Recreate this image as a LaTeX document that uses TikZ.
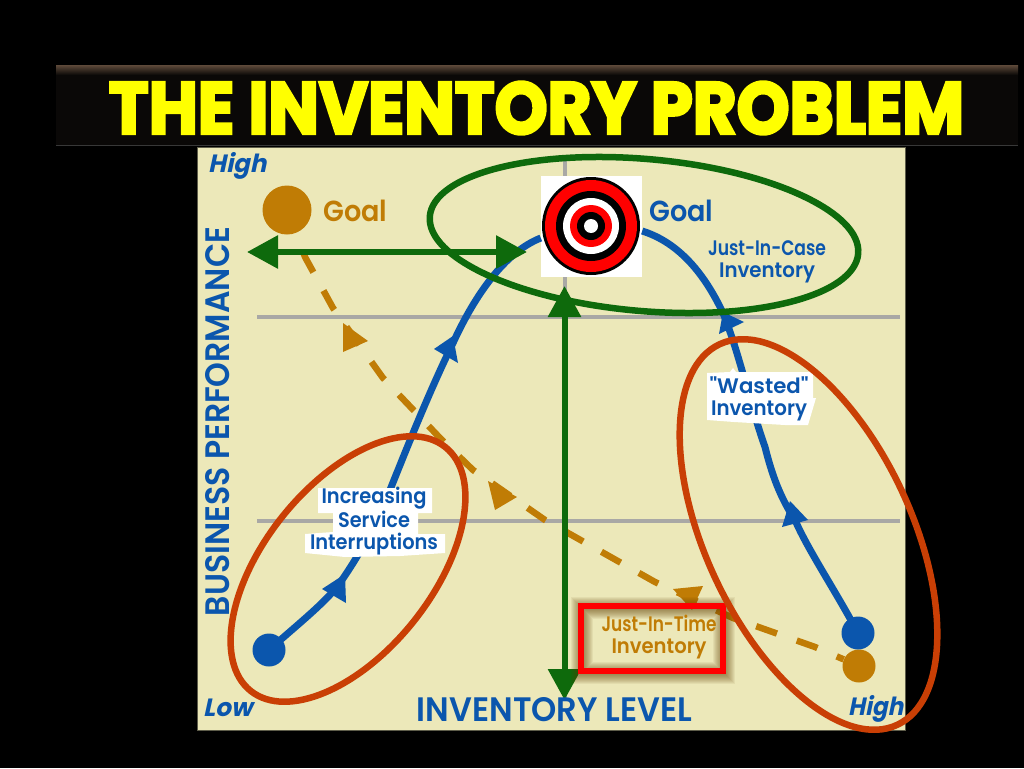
\documentclass[tikz,border=0pt]{standalone}
\usepackage{fontspec}
\usepackage{graphicx}
\usetikzlibrary{arrows.meta}
\newfontfamily\pf{Poppins}[UprightFont=*-SemiBold]
\newfontfamily\pfi{Poppins}[UprightFont=*-Bold,FakeSlant=.22]
\newfontfamily\titlef{Poppins}[FakeBold=4,UprightFont=*-Bold]
\newcommand{\fitw}[2]{\resizebox{#1pt}{\height}{#2}}
\definecolor{panelc}{HTML}{ECE8B9}
\definecolor{bluec}{HTML}{0B56AD}
\definecolor{greenc}{HTML}{0E6A0C}
\definecolor{brownc}{HTML}{C07C05}
\definecolor{redc}{HTML}{C93F05}
\definecolor{grayc}{HTML}{A9A8A5}
\definecolor{topc}{HTML}{5E4A3A}
\definecolor{barc}{HTML}{0A0807}
\definecolor{yellowc}{HTML}{FFFF00}
\tikzset{
  x=1pt,y=-1pt,
  gridline/.style={draw=grayc,line width=4pt},
  flow/.style={draw=bluec,line width=7pt},
  headblue/.style={fill=bluec},
  headbrown/.style={fill=brownc},
  gaparrow/.style={draw=greenc,line width=6pt,{Triangle[length=31pt,width=32pt]}-{Triangle[length=31pt,width=32pt]}},
  ringg/.style={draw=greenc,line width=6.5pt},
  ringr/.style={draw=redc,line width=6.5pt},
  jit/.style={draw=brownc,line width=6.5pt,dash pattern=on 22pt off 21pt,dash phase=22pt},
  dotn/.style={circle,inner sep=0pt,minimum size=#1},
  lbl/.style={inner sep=0pt,align=center,font=\pf\fontsize{21}{22}\selectfont},
  corner/.style={inner sep=0pt,text=bluec,font=\pfi\fontsize{25}{25}\selectfont,anchor=base west},
  goaltxt/.style={inner sep=0pt,font=\pf\fontsize{29}{29}\selectfont,anchor=base west},
}
\begin{document}
\begin{tikzpicture}
\useasboundingbox (0,0) rectangle (1024,768);
\fill[black] (0,0) rectangle (1024,768);
% title bar
\fill[barc] (56,65) rectangle (1018,146);
\shade[top color=topc,bottom color=barc] (56,65) rectangle (1018,75);
\draw[black!78!white,line width=1pt] (56,145.5) -- (1018,145.5);
\node[inner sep=0pt,text=yellowc] (title) at (536.5,108) {\resizebox{855pt}{52pt}{\titlef THE INVENTORY PROBLEM}};
% panel
\fill[panelc,draw=black!60!panelc,line width=1pt] (197,147) rectangle (905,730);
% grid
\draw[gridline] (257,317) -- (900,317);
\draw[gridline] (257,521) -- (900,521);
\draw[gridline] (565,160) -- (565,700);
% target
\node[fill=white,minimum size=101pt,inner sep=0pt] (target) at (591.5,226.5) {};
\fill[black] (591,226) circle (49);
\fill[red] (591,226) circle (46);
\fill[black] (591,226) circle (35);
\fill[white] (591,226) circle (28);
\fill[red] (591,226) circle (21);
\fill[black] (591,226) circle (14);
\fill[white] (591,226) circle (7);
% dots
\node[dotn=49pt,fill=brownc] (bgoal) at (287,210) {};
\node[dotn=33pt,fill=brownc] (bhigh) at (859,666) {};
% dashed just-in-time path
\coordinate (bstart) at (296,233);
\draw[jit] (bstart) -- (305,257) -- (333,308) -- (383,378) -- (440,438) -- (473,470) -- (545,520) -- (655,582) -- (733,618) -- (815,647) -- (bhigh);
\fill[headbrown] (343,323) -- (368,341) -- (343,352) -- cycle;
\fill[headbrown] (488,481) -- (517,497) -- (495,510) -- cycle;
\fill[headbrown] (673,589) -- (703,586) -- (692,610) -- cycle;
% blue curves
\node[dotn=33pt,fill=bluec] (ldot) at (269,650) {};
\node[dotn=33pt,fill=bluec] (rdot) at (858,633) {};
\draw[flow] (ldot.center) .. controls (297,625) and (320,607) .. (337,587)
  .. controls (362,552) and (375,525) .. (390,490)
  .. controls (408,445) and (430,390) .. (453,343)
  .. controls (475,295) and (505,252) .. (target.west |- 0,238);
\draw[flow] (target.east |- 0,231) .. controls (680,243) and (705,275) .. (723,313)
  .. controls (740,355) and (750,405) .. (765,447)
  .. controls (772,475) and (780,497) .. (795,520)
  .. controls (808,550) and (835,590) .. (rdot.center);
\fill[headblue] (322,589) -- (346,603) -- (345,574) -- cycle;
\fill[headblue] (434,349) -- (458,363) -- (453,336) -- cycle;
\fill[headblue] (719,334) -- (744,322) -- (723,312) -- cycle;
\fill[headblue] (782,527) -- (808,520) -- (790,501) -- cycle;
% green arrows
\coordinate (hl) at (247,252); \coordinate (hr) at (527,252);
\coordinate (vt) at (564.5,286); \coordinate (vb) at (564.5,700);
\draw[gaparrow] (hl) -- (hr);
\draw[gaparrow] (vt) -- (vb);
% white label patches
\fill[white] (318,488) -- (432,488) -- (432,513) -- (418,513) -- (418,534) -- (445,534) -- (445,553) -- (400,556) -- (345,557) -- (305,553) -- (305,534) -- (333,532) -- (333,513) -- (318,513) -- cycle;
\fill[white] (707,373) -- (730,372) -- (733,368) -- (736,372) -- (813,372) -- (813,398) -- (816,398) -- (808,425) -- (785,425) -- (734,422) -- (707,420) -- cycle;
% just in time box
\foreach \w in {2,4,...,22}{
  \draw[brownc!50!black,opacity=.07,line width=\w pt] (582,608) rectangle (724,673);
}
\draw[red,line width=6pt] (580.5,605.5) rectangle (722.5,670.5);
% labels
\node[corner] (lhigh) at (208,172) {\fitw{58}{High}};
\node[corner] (llow) at (203,716) {\fitw{49}{Low}};
\node[corner] (rhigh) at (848,715) {\fitw{55}{High}};
\node[goaltxt,text=brownc] (goalb) at (323,221) {\fitw{64}{Goal}};
\node[goaltxt,text=bluec] (goalt) at (649,221) {\fitw{64}{Goal}};
\node[inner sep=0pt,text=bluec,rotate=90] (yaxis) at (218,421.5) {\resizebox{389pt}{24pt}{\pf BUSINESS PERFORMANCE}};
\node[inner sep=0pt,text=bluec] (xaxis) at (554.5,710) {\resizebox{275pt}{24pt}{\pf INVENTORY LEVEL}};
\node[lbl,text=bluec] (jic) at (767,261.5) {\fitw{118}{Just-In-Case}\\\fitw{96}{Inventory}};
\node[lbl,text=bluec] (isi) at (374,521) {\fitw{105}{Increasing}\\\fitw{72}{Service}\\\fitw{128}{Interruptions}};
\node[lbl,text=bluec] (waste) at (759,398.5) {\fitw{99}{"Wasted"}\\\fitw{96}{Inventory}};
\node[lbl,text=brownc] (jitl) at (659,637.5) {\fitw{115}{Just-In-Time}\\\fitw{95}{Inventory}};
% ellipses
\draw[ringg,rotate around={-5:(644,235)}] (644,235) ellipse (215 and 76);
\draw[ringr,rotate around={51.4:(348,569)}] (348,569) ellipse (156 and 84);
\draw[ringr,rotate around={-65:(808.5,534.5)}] (808.5,534.5) ellipse (210 and 103);
\end{tikzpicture}
\end{document}
